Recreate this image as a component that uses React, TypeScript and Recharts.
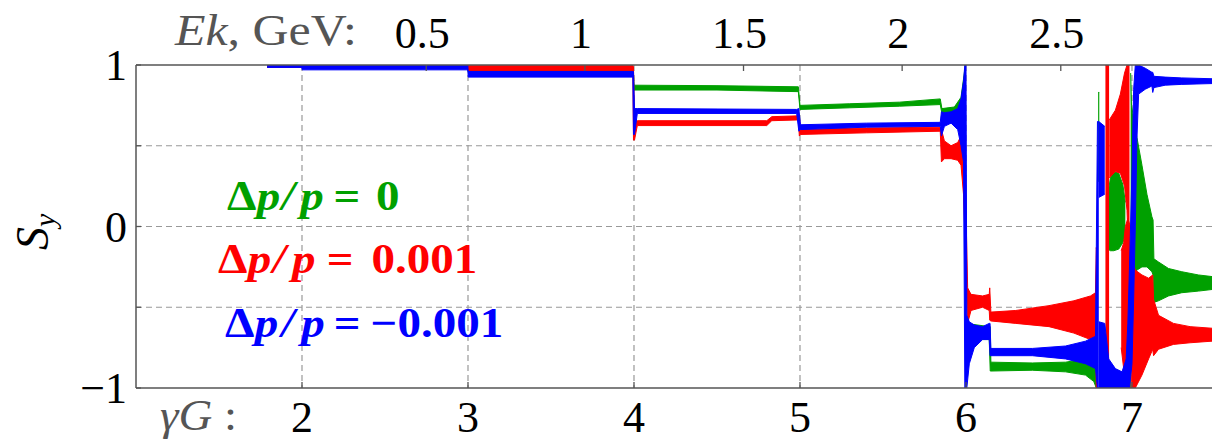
import React from 'react'
import { ComposedChart, Area, XAxis, YAxis, CartesianGrid } from 'recharts'

// [gammaG, low Sy, high Sy] (envelope of the noisy traces)
type Pt = [number, number, number]

const gammaGTicks = [2, 3, 4, 5, 6, 7]
const ekTicks = [0.5, 1, 1.5, 2, 2.5]
const syTicks = [-1, -0.5, 0, 0.5, 1]
const syLabels = [-1, 0, 1]
const gridX = [2, 3, 4, 5, 6, 7]
const gridY = [-0.5, 0, 0.5]
const xDomain = [1, 7.482]

// proton: gammaG = G * (1 + Ek / m)
const G_PROTON = 1.7928
const M_PROTON = 0.938
const ekToGammaG = (ek: number) => G_PROTON * (1 + ek / M_PROTON)

const GREEN = '#00a000'
const RED = '#ff0000'
const BLUE = '#0000ff'

// dp/p = 0
const green1: Pt[] = [
  [1.79, 0.985, 1.0], [2.999, 0.985, 1.0], [3.001, 0.955, 0.98], [3.995, 0.955, 0.98],
  [4.0, 0.845, 0.875], [4.5, 0.845, 0.872], [4.99, 0.835, 0.865],
  [5.0, 0.725, 0.75], [5.3, 0.735, 0.76], [5.6, 0.745, 0.77], [5.845, 0.755, 0.79],
  [5.855, 0.7, 0.73], [5.93, 0.71, 0.74], [5.97, 0.73, 0.8], [5.99, 0.75, 0.95], [5.995, 0.75, 1.0],
]
const green2: Pt[] = [
  [6.0, -0.7, -0.6], [6.14, -0.7, -0.62], [6.146, -0.895, -0.62], [6.15, -0.895, -0.84],
  [6.4, -0.89, -0.845], [6.6, -0.9, -0.84], [6.72, -0.92, -0.82], [6.77, -0.96, -0.8],
  [6.785, -1.0, -0.8], [6.79, -1.0, -0.85],
]
const green3: Pt[] = [[6.796, 0.28, 0.83], [6.803, 0.28, 0.83]]
const green4: Pt[] = [
  [6.855, -0.14, 0.2], [6.87, -0.15, 0.3], [6.89, -0.15, 0.34], [6.92, -0.14, 0.33],
  [6.945, -0.1, 0.26], [6.96, -0.05, 0.15],
]
const green5: Pt[] = [
  [6.992, -1.0, 0.95], [6.997, -0.3, 0.75], [7.03, -0.27, 0.55], [7.06, -0.25, 0.38],
  [7.09, -0.25, 0.2], [7.12, -0.28, 0.06], [7.127, -0.3, 0.04], [7.132, -0.47, -0.2],
  [7.16, -0.46, -0.22], [7.22, -0.43, -0.26], [7.3, -0.41, -0.28], [7.4, -0.4, -0.3], [7.482, -0.39, -0.31],
]

// dp/p = 0.001
const red1: Pt[] = [
  [1.79, 0.985, 1.0], [2.999, 0.985, 1.0], [3.001, 0.965, 0.998], [3.993, 0.965, 0.998],
  [3.997, 0.535, 0.99], [4.003, 0.535, 0.66], [4.02, 0.625, 0.655], [4.8, 0.625, 0.655],
  [4.83, 0.655, 0.68], [4.99, 0.66, 0.685], [4.996, 0.56, 0.685], [5.003, 0.57, 0.6],
  [5.4, 0.58, 0.61], [5.845, 0.59, 0.615], [5.852, 0.4, 0.6], [5.87, 0.42, 0.53],
  [5.91, 0.42, 0.5], [5.95, 0.41, 0.52], [5.97, 0.38, 0.56], [5.985, 0.2, 0.5],
  [5.995, -0.1, 0.3], [6.003, -0.38, -0.05], [6.01, -0.6, -0.38], [6.03, -0.52, -0.42],
  [6.1, -0.5, -0.43], [6.14, -0.52, -0.42], [6.143, -0.58, -0.38], [6.15, -0.585, -0.53],
  [6.3, -0.6, -0.52], [6.5, -0.62, -0.49], [6.65, -0.66, -0.46], [6.75, -0.7, -0.43],
  [6.78, -0.72, -0.41], [6.785, -1.0, -0.13], [6.792, -1.0, -0.2],
]
const red2: Pt[] = [[6.84, -1.0, 1.0], [6.862, -1.0, 1.0]]
const red3: Pt[] = [
  [6.863, 0.3, 0.66], [6.9, 0.34, 0.72], [6.93, 0.33, 0.82], [6.955, 0.25, 0.95],
  [6.97, 0.1, 1.0], [6.985, -0.3, 1.0],
]
const red4: Pt[] = [
  [6.935, -0.75, -0.15], [6.95, -0.88, -0.1], [6.96, -0.95, 0.0], [6.975, -1.0, 0.05], [6.99, -1.0, 0.0],
]
const red5: Pt[] = [
  [6.995, -1.0, -0.2], [7.02, -1.0, -0.27], [7.06, -0.92, -0.3], [7.1, -0.82, -0.32],
  [7.125, -0.76, -0.3], [7.13, -0.8, -0.45], [7.16, -0.76, -0.55], [7.25, -0.73, -0.6],
  [7.35, -0.72, -0.62], [7.482, -0.71, -0.63],
]

// dp/p = -0.001
const blue1: Pt[] = [
  [1.79, 0.985, 1.0], [1.999, 0.985, 1.0], [2.001, 0.97, 1.0], [2.999, 0.97, 1.0],
  [3.001, 0.925, 0.96], [3.993, 0.925, 0.96], [3.997, 0.57, 0.96], [4.003, 0.57, 0.73],
  [4.02, 0.7, 0.73], [4.98, 0.7, 0.725], [4.993, 0.59, 0.73], [5.003, 0.6, 0.63],
  [5.4, 0.615, 0.64], [5.845, 0.62, 0.645], [5.852, 0.56, 0.71], [5.87, 0.62, 0.705],
  [5.91, 0.64, 0.71], [5.95, 0.6, 0.73], [5.97, 0.5, 0.79], [5.985, 0.4, 0.9],
  [5.993, -1.0, 1.0], [6.0, -1.0, 1.0], [6.005, -1.0, -0.55], [6.02, -0.85, -0.59],
  [6.05, -0.75, -0.61], [6.1, -0.7, -0.62], [6.14, -0.7, -0.6], [6.145, -0.8, -0.6],
  [6.15, -0.8, -0.755], [6.4, -0.8, -0.755], [6.6, -0.82, -0.74], [6.72, -0.85, -0.71],
  [6.78, -0.88, -0.68], [6.792, -1.0, 0.65], [6.8, -1.0, 0.65],
]
const blue2: Pt[] = [[6.8, 0.18, 0.65], [6.836, 0.2, 0.62]]
const blue3: Pt[] = [
  [6.8, -1.0, -0.59], [6.836, -1.0, -0.6], [6.86, -1.0, -0.82], [6.9, -1.0, -0.88],
  [6.94, -1.0, -0.9], [6.965, -1.0, -0.82], [6.975, -1.0, -0.6], [6.985, -1.0, -0.25],
  [7.0, -0.85, 0.35], [7.01, -0.45, 0.85], [7.02, 0.0, 1.0], [7.03, 0.55, 1.0],
  [7.04, 0.82, 1.0], [7.08, 0.85, 0.98], [7.12, 0.87, 0.955], [7.125, 0.83, 0.955],
  [7.132, 0.86, 0.93], [7.2, 0.875, 0.925], [7.3, 0.88, 0.92], [7.482, 0.885, 0.915],
]

const bands = [
  { id: 'g1', color: GREEN, pts: green1 },
  { id: 'g2', color: GREEN, pts: green2 },
  { id: 'g3', color: GREEN, pts: green3 },
  { id: 'g4', color: GREEN, pts: green4 },
  { id: 'g5', color: GREEN, pts: green5 },
  { id: 'r1', color: RED, pts: red1 },
  { id: 'r2', color: RED, pts: red2 },
  { id: 'r3', color: RED, pts: red3 },
  { id: 'r4', color: RED, pts: red4 },
  { id: 'r5', color: RED, pts: red5 },
  { id: 'b1', color: BLUE, pts: blue1 },
  { id: 'b2', color: BLUE, pts: blue2 },
  { id: 'b3', color: BLUE, pts: blue3 },
]

const FONT = "'Liberation Serif', 'DejaVu Serif', serif"
const FRAME = '#555'
const txt = { fontFamily: FONT }

const BottomTick = (props: any) => {
  const { x, y, payload } = props
  return (
    <g>
      <line x1={x} x2={x} y1={y} y2={y - 6} stroke={FRAME} strokeWidth={1.3} />
      <text x={x} y={y + 44} textAnchor="middle" fontSize={44} style={txt} fill="#000">
        {payload.value}
      </text>
    </g>
  )
}

const TopTick = (props: any) => {
  const { x, y, index } = props
  return (
    <g>
      <line x1={x} x2={x} y1={y} y2={y + 6} stroke={FRAME} strokeWidth={1.3} />
      <text x={x - 4} y={y - 17} textAnchor="middle" fontSize={44} style={txt} fill="#000">
        {ekTicks[index] ?? ''}
      </text>
    </g>
  )
}

const LeftTick = (props: any) => {
  const { x, y, payload } = props
  const v = payload.value
  return (
    <g>
      <line x1={x} x2={x + 5} y1={y} y2={y} stroke={FRAME} strokeWidth={1.3} />
      {syLabels.includes(v) && (
        <text x={x - 9} y={y + 15} textAnchor="end" fontSize={44} style={txt} fill="#000">
          {v < 0 ? `\u2212${Math.abs(v)}` : v}
        </text>
      )}
    </g>
  )
}

// one legend line: pieces placed at offsets (unscaled units) and stretched like the source image
const LegendLine = ({ x, y, color, pieces }: { x: number; y: number; color: string; pieces: [string, number, boolean][] }) => (
  <text transform={`translate(${x},${y}) scale(1.12,1)`} fontSize={42} fontWeight="bold" fill={color} style={txt}>
    {pieces.map(([s, dx, it], i) => (
      <tspan key={i} x={dx} fontStyle={it ? 'italic' : 'normal'}>
        {s}
      </tspan>
    ))}
  </text>
)

export default function App() {
  return (
    <div style={{ position: 'relative', width: 1212, height: 442, background: '#fff' }}>
      <style>{'body{margin:0}'}</style>
      <ComposedChart width={1212} height={442} margin={{ top: 0, right: 0, bottom: 0, left: 0 }}>
        <CartesianGrid
          stroke="#999"
          strokeDasharray="6 4"
          strokeWidth={1.2}
          verticalValues={gridX}
          horizontalValues={gridY}
        />
        <XAxis
          dataKey="x"
          type="number"
          domain={xDomain}
          allowDataOverflow
          ticks={gammaGTicks}
          interval={0}
          height={54}
          tickSize={0}
          tickMargin={0}
          tickLine={false}
          axisLine={{ stroke: FRAME, strokeWidth: 1.5 }}
          tick={<BottomTick />}
        />
        <XAxis
          xAxisId="top"
          orientation="top"
          dataKey="x"
          type="number"
          domain={xDomain}
          allowDataOverflow
          ticks={ekTicks.map(ekToGammaG)}
          interval={0}
          height={65}
          tickSize={0}
          tickMargin={0}
          tickLine={false}
          axisLine={{ stroke: FRAME, strokeWidth: 1.5 }}
          tick={<TopTick />}
        />
        <YAxis
          type="number"
          domain={[-1, 1]}
          allowDataOverflow
          ticks={syTicks}
          interval={0}
          width={136}
          tickSize={0}
          tickMargin={0}
          tickLine={false}
          axisLine={{ stroke: FRAME, strokeWidth: 1.5 }}
          tick={<LeftTick />}
        />
        {bands.map((b) => (
          <Area
            key={b.id}
            data={b.pts.map(([x, lo, hi]) => ({ x, r: [lo, hi] }))}
            dataKey="r"
            type="linear"
            fill={b.color}
            fillOpacity={1}
            stroke={b.color}
            strokeWidth={1}
            dot={false}
            activeDot={false}
            isAnimationActive={false}
          />
        ))}
      </ComposedChart>

      <svg
        width={1212}
        height={442}
        style={{ position: 'absolute', left: 0, top: 0, pointerEvents: 'none', fontFamily: FONT }}
      >
        <text x={175} y={45} fontSize={44} fill="#555" textLength={182} lengthAdjust="spacingAndGlyphs" style={txt}>
          <tspan fontStyle="italic">Ek</tspan>, GeV:
        </text>
        <text x={160} y={430} fontSize={44} fill="#555" textLength={77} lengthAdjust="spacingAndGlyphs" style={txt}>
          <tspan fontStyle="italic">γG</tspan> :
        </text>
        <text transform="translate(48,250) rotate(-90)" fontSize={46} fill="#000" style={txt}>
          <tspan fontStyle="italic">S</tspan>
          <tspan fontStyle="italic" fontSize={30} dy={7}>y</tspan>
        </text>
        <LegendLine
          x={227}
          y={210}
          color={GREEN}
          pieces={[['Δ', 0, false], ['p', 26.5, true], ['/', 49, true], ['p', 65.5, true], ['=', 95, false], ['0', 133, false]]}
        />
        <LegendLine
          x={218}
          y={273}
          color={RED}
          pieces={[['Δ', 0, false], ['p', 26.5, true], ['/', 49, true], ['p', 66, true], ['=', 97, false], ['0.001', 137, false]]}
        />
        <LegendLine
          x={225}
          y={337}
          color={BLUE}
          pieces={[['Δ', 0, false], ['p', 26.5, true], ['/', 50.5, true], ['p', 68, true], ['=', 97, false], ['\u2212', 130, false], ['0.001', 154, false]]}
        />
      </svg>
    </div>
  )
}
